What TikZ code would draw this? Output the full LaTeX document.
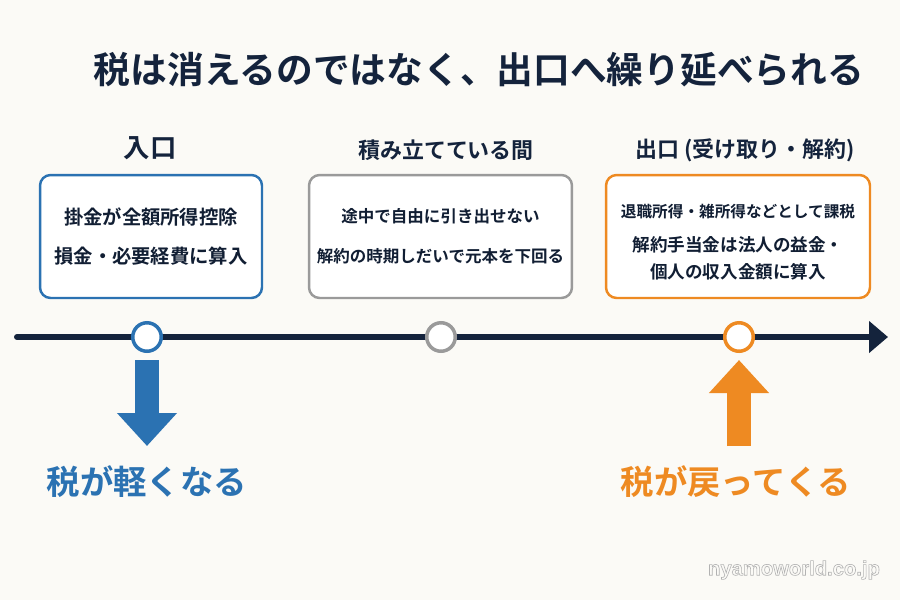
\documentclass[tikz,border=0pt]{standalone}
\usepackage{fontspec}
\setmainfont{Noto Sans CJK JP}
\newfontfamily\jpmed{Noto Sans CJK JP Bold}
\newfontfamily\jpbold{Noto Sans CJK JP Bold}
\newfontfamily\wmfont{Liberation Sans}
\usepackage{tikz}
\usetikzlibrary{arrows.meta,positioning,calc}
\definecolor{navy}{HTML}{14233C}
\definecolor{inblue}{HTML}{2B72B2}
\definecolor{midgray}{HTML}{9A9A9A}
\definecolor{outorange}{HTML}{EE8A22}
\definecolor{paper}{HTML}{FBFAF6}

\begin{document}
\begin{tikzpicture}[x=0.02cm,y=-0.02cm,>=Stealth,
  stagebox/.style={draw,line width=1.4pt,rounded corners=6pt,fill=white,minimum height=2.46cm,inner sep=0pt},
  stagehead/.style={text=navy,font=\jpbold\fontsize{12.5}{15}\selectfont,inner sep=0pt},
  boxtext/.style={text=navy!85!black,align=center,inner sep=0pt},
  dot/.style={circle,draw,fill=white,line width=2pt,minimum size=0.57cm,inner sep=0pt},
  taxarrow/.style={line width=0.48cm,-{Triangle[length=0.66cm,width=1.16cm]}},
  taxlabel/.style={font=\jpbold\fontsize{19}{22}\selectfont,inner sep=0pt}]
\fill[paper] (0,0) rectangle (900,600);
\useasboundingbox (0,0) rectangle (900,600);
% title
\node[text=navy,font=\jpbold\fontsize{20.9}{24}\selectfont,inner sep=0pt] (title) at (479,70) {税は消えるのではなく、出口へ繰り延べられる};
% three stages
\node[stagehead,font=\jpbold\fontsize{15}{18}\selectfont] (head in) at (150,148) {入口};
\node[stagehead] (head mid) at (446,150) {積み立てている間};
\node[stagehead] (head out) at (745,150) {出口 (受け取り・解約)};
\node[stagebox,draw=inblue,minimum width=4.44cm] (box in) at (151,236.5) {};
\node[stagebox,draw=midgray,minimum width=5.26cm] (box mid) at (440.5,236.5) {};
\node[stagebox,draw=outorange,minimum width=5.28cm] (box out) at (738,236.5) {};
\node[boxtext,font=\jpmed\fontsize{11}{22.7}\selectfont] (text in) at (box in.center) {掛金が全額所得控除\\損金・必要経費に算入};
\node[boxtext,font=\jpmed\fontsize{9.4}{22.7}\selectfont] (text mid) at (box mid.center) {途中で自由に引き出せない\\解約の時期しだいで元本を下回る};
\node[boxtext,font=\jpmed\fontsize{10}{15.3}\selectfont] (text out) at ([yshift=-0.11cm]box out.center) {{\fontsize{8.9}{15}\selectfont 退職所得・雑所得などとして課税}\\[4pt]解約手当金は法人の益金・\\個人の収入金額に算入};
% timeline
\coordinate (line start) at (17,337);
\coordinate (line end) at (888,337);
\draw[navy,line width=3.4pt,line cap=round,-{Triangle[length=0.38cm,width=0.62cm]}] (line start) -- (line end);
\node[dot,draw=inblue] (dot in) at (147,337) {};
\node[dot,draw=midgray] (dot mid) at (441,337) {};
\node[dot,draw=outorange] (dot out) at (739,337) {};
% effect on tax
\coordinate (down tip) at (147,446);
\coordinate (up base) at (739,446);
\draw[taxarrow,inblue] ($(dot in.south)+(0,7)$) -- (down tip);
\draw[taxarrow,outorange] (up base) -- ($(dot out.south)+(0,7)$);
\node[taxlabel,text=inblue] (lighter) at (147,482) {税が軽くなる};
\node[taxlabel,text=outorange] (back) at (736,482) {税が戻ってくる};
\node[text=gray!60,font=\wmfont\bfseries\fontsize{11.5}{14}\selectfont,inner sep=0pt] (mark) at (794,570) {\special{pdf:code 1 Tr 0.35 w}nyamoworld.co.jp\special{pdf:code 0 Tr}};
\end{tikzpicture}
\end{document}
